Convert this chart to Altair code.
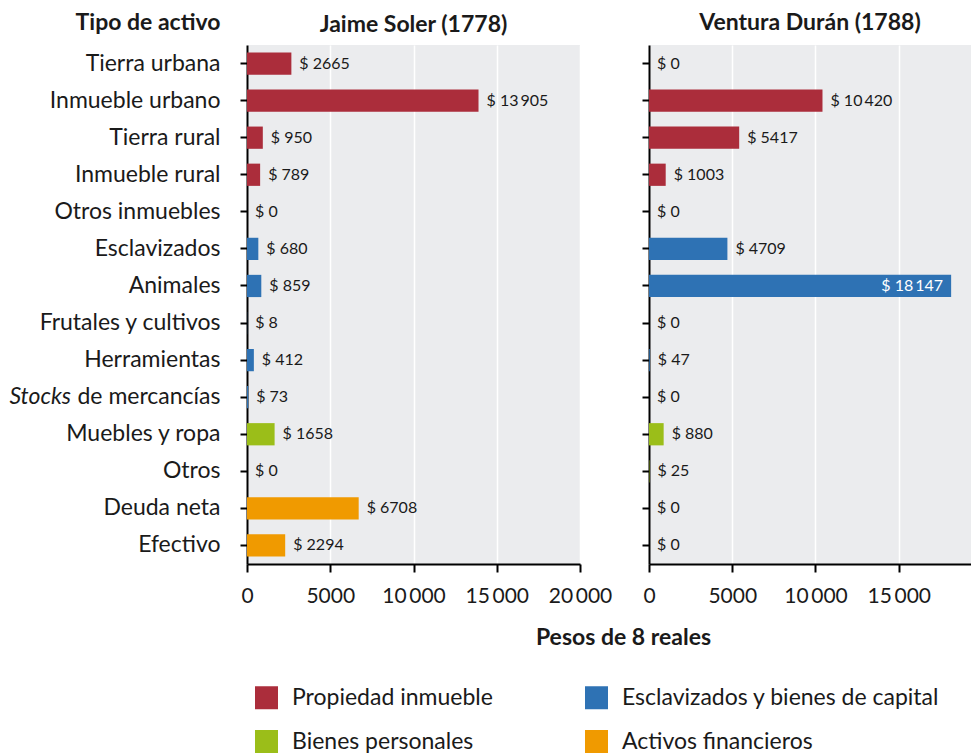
import altair as alt
import pandas as pd

categories = ["Tierra urbana", "Inmueble urbano", "Tierra rural", "Inmueble rural",
              "Otros inmuebles", "Esclavizados", "Animales", "Frutales y cultivos",
              "Herramientas", "Stocks de mercancías", "Muebles y ropa", "Otros",
              "Deuda neta", "Efectivo"]
groups = ["Propiedad inmueble"] * 5 + ["Esclavizados y bienes de capital"] * 5 + \
         ["Bienes personales"] * 2 + ["Activos financieros"] * 2
jaime = [2665, 13905, 950, 789, 0, 680, 859, 8, 412, 73, 1658, 0, 6708, 2294]
ventura = [0, 10420, 5417, 1003, 0, 4709, 18147, 0, 47, 0, 880, 25, 0, 0]

group_order = ["Propiedad inmueble", "Esclavizados y bienes de capital",
               "Bienes personales", "Activos financieros"]
group_colors = ["#ab2d3b", "#2e72b4", "#9bbe19", "#f09a00"]

TS = "\u2009"


def fmt(v):
    if v >= 10000:
        s = f"{v:,}".replace(",", TS)
    else:
        s = str(v)
    return "$ " + s


def frame(vals):
    return pd.DataFrame({
        "cat": categories,
        "grupo": groups,
        "valor": vals,
        "label": [fmt(v) for v in vals],
        "inside": [v > 16000 for v in vals],
    })


df_j = frame(jaime)
df_v = frame(ventura)

FONT = "Lato"
TXT = "#1a1a1a"
FS = 23

ydom = alt.Scale(domain=categories, paddingInner=0.4, paddingOuter=0.2)
color = alt.Color("grupo:N", scale=alt.Scale(domain=group_order, range=group_colors),
                  legend=alt.Legend(title=None, orient="none", legendX=8, legendY=641,
                                    columns=2, direction="horizontal",
                                    symbolType="square", symbolSize=529,
                                    symbolStrokeWidth=0, labelFontSize=FS,
                                    labelColor=TXT, labelOffset=14, labelLimit=400,
                                    rowPadding=20, columnPadding=92))

tick_expr = ("datum.value >= 10000 ? replace(format(datum.value, ','), ',', '" + TS +
             "') : format(datum.value, 'd')")


def panel(df, title, left):
    if left:
        width = 333
        xscale = alt.Scale(domain=[0, 20000], nice=False)
        yaxis = alt.Axis(title="Tipo de activo", titleAngle=0, titleAlign="right",
                         titleBaseline="alphabetic", titleX=-27, titleY=-16,
                         labelPadding=20, tickSize=7, labelFontSize=FS, labelLimit=400,
                         labelExpr="datum.value == 'Stocks de mercancías' ? 'de mercancías' : datum.value")
        xaxis = alt.Axis(title="Pesos de 8 reales", values=[0, 5000, 10000, 15000, 20000],
                         labelExpr=tick_expr, titleX=376, titleY=73,
                         titleBaseline="middle", labelPadding=13, labelOverlap=False,
                         labelFlush=False)
    else:
        width = 322
        xscale = alt.Scale(domain=[0, 19340], nice=False)
        yaxis = alt.Axis(title=None, labels=False, tickSize=7)
        xaxis = alt.Axis(title=None, values=[0, 5000, 10000, 15000],
                         labelExpr=tick_expr, labelPadding=13, labelOverlap=False,
                         labelFlush=False)

    base = alt.Chart(df)
    bars = base.mark_bar().encode(
        y=alt.Y("cat:N", scale=ydom, axis=yaxis),
        x=alt.X("valor:Q", scale=xscale, axis=xaxis),
        color=color,
    )
    out_txt = base.transform_filter("!datum.inside").mark_text(
        align="left", baseline="middle", dx=8, fontSize=16, color=TXT, font=FONT
    ).encode(y=alt.Y("cat:N", scale=ydom), x=alt.X("valor:Q", scale=xscale), text="label:N")
    in_txt = base.transform_filter("datum.inside").mark_text(
        align="right", baseline="middle", dx=-8, fontSize=16, color="white", font=FONT
    ).encode(y=alt.Y("cat:N", scale=ydom), x=alt.X("valor:Q", scale=xscale), text="label:N")
    layers = [bars, out_txt, in_txt]
    if left:
        stocks = alt.Chart(pd.DataFrame({"cat": ["Stocks de mercancías"], "t": ["Stocks"]})).mark_text(
            align="right", baseline="middle", fontSize=FS, fontStyle="italic", color=TXT, font=FONT
        ).encode(y=alt.Y("cat:N", scale=ydom), x=alt.value(-176), text="t:N")
        layers.append(stocks)
    return alt.layer(*layers).properties(
        width=width, height=519,
        title=alt.Title(title, fontSize=FS, fontWeight="bold", color=TXT, font=FONT,
                        offset=12, dy=38 if left else 2),
    )


chart = alt.hconcat(panel(df_j, "Jaime Soler (1778)", True),
                    panel(df_v, "Ventura Durán (1788)", False),
                    spacing=69, bounds="flush").properties(
    padding={"left": 1, "top": 3, "right": 0, "bottom": 0}
).configure(font=FONT).configure_view(fill="#ebecee", stroke=None).configure_axis(
    labelFontSize=21, labelColor=TXT, titleFontSize=FS, titleFontWeight="bold",
    titleColor=TXT, domainColor="black", domainWidth=2, tickColor="black",
    tickWidth=2, tickSize=8, labelFont=FONT, titleFont=FONT,
).configure_axisX(grid=True, gridColor="white", gridWidth=1.5).configure_axisY(grid=False)

chart.save("out.html", embed_options={"renderer": "svg", "actions": False})
